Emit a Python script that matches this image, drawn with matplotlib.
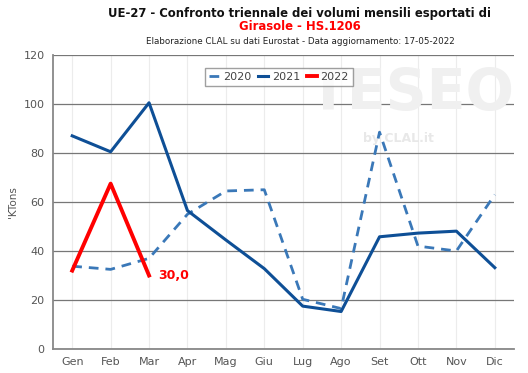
import matplotlib
matplotlib.use("Agg")
import matplotlib.pyplot as plt

months = ["Gen", "Feb", "Mar", "Apr", "Mag", "Giu", "Lug", "Ago", "Set", "Ott", "Nov", "Dic"]
y2020 = [33.8, 32.5, 37.0, 55.0, 64.5, 65.0, 20.3, 16.5, 88.5, 42.0, 40.0, 63.0]
y2021 = [87.0, 80.5, 100.5, 56.5, 44.5, 32.8, 17.5, 15.3, 45.8, 47.3, 48.1, 33.2]
y2022 = [32.0, 67.5, 30.0]
yticks = [0, 20, 40, 60, 80, 100, 120]

plt.rcParams['font.family'] = ['DejaVu Sans']
fig = plt.figure(figsize=(5.28, 3.73), dpi=100)
ax = fig.add_axes([53/528, 1-349/373, (514-53)/528, (349-55)/373])
ax.set_facecolor('white')

x = list(range(len(months)))
ax.plot(x, y2020, color='#3a78b8', lw=2, ls=(0, (3.5, 2.5)), label='2020', zorder=3)
ax.plot(x, y2021, color='#0e4f96', lw=2.2, label='2021', zorder=4)
ax.plot(x[:len(y2022)], y2022, color='#ff0000', lw=2.8, label='2022', zorder=5)
ax.text(2.25, y2022[-1], "30,0", color='#ff0000', fontsize=9, fontweight='bold', va='center', ha='left')

# watermark
ax.text(8.85, 104, "TESEO", fontsize=41, fontweight='bold', color='#f0f0f0', ha='center', va='center', zorder=1)
ax.text(8.5, 86, "by CLAL.it", fontsize=9, fontweight='bold', color='#e8e8e8', ha='center', va='center', zorder=1)

ax.set_xlim(-0.5, 11.5)
ax.set_ylim(0, 120)
ax.set_yticks(yticks)
ax.set_xticks(x)
ax.set_xticklabels(months)
ax.tick_params(axis='both', colors='#555555', labelsize=8, length=0, pad=6)
for t in ax.get_xticklabels() + ax.get_yticklabels():
    t.set_color('#555555')
ax.yaxis.grid(True, color='#777777', lw=0.9, zorder=0)
ax.xaxis.grid(True, color='#ececec', lw=0.8, zorder=0)
ax.set_axisbelow(True)
for s in ['top', 'right']:
    ax.spines[s].set_visible(False)
for s in ['left', 'bottom']:
    ax.spines[s].set_color('#888888')
    ax.spines[s].set_linewidth(1.3)
ax.set_ylabel("'KTons", fontsize=7.5, color='#555555')
ax.yaxis.set_label_coords(-35/461, 0.5)

leg = ax.legend(loc='upper left', bbox_to_anchor=(146/461, 1-7/294), ncol=3, fontsize=8,
                frameon=True, fancybox=False, handlelength=0.9, handletextpad=0.35,
                columnspacing=0.6, borderpad=0.4)
leg.set_zorder(10)
leg.get_frame().set_edgecolor('#888888')
leg.get_frame().set_linewidth(1.0)
for t in leg.get_texts():
    t.set_color('#444444')

fig.text(0.568, 1-14/373, "UE-27 - Confronto triennale dei volumi mensili esportati di",
         fontsize=8.4, fontweight='bold', ha='center', va='center', color='#111111')
fig.text(0.568, 1-27/373, "Girasole - HS.1206", fontsize=8.4, fontweight='bold',
         ha='center', va='center', color='#ff0000')
fig.text(0.568, 1-42/373, "Elaborazione CLAL su dati Eurostat - Data aggiornamento: 17-05-2022",
         fontsize=6.3, ha='center', va='center', color='#222222')

fig.savefig("out.png", dpi=100, facecolor='white')
